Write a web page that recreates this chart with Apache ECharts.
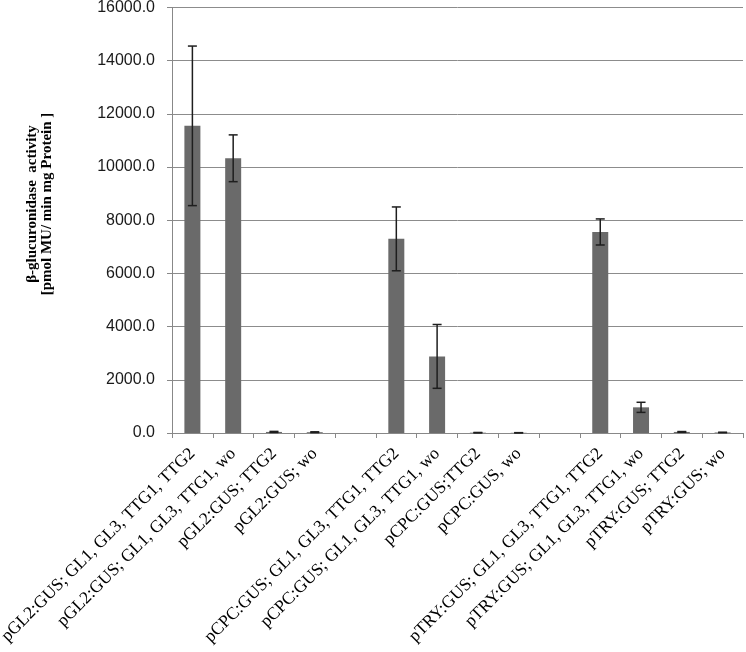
<!DOCTYPE html>
<html>
<head>
<meta charset="utf-8">
<script src="https://cdn.jsdelivr.net/npm/echarts@6/dist/echarts.min.js"></script>
<style>
html,body{margin:0;padding:0;background:#fff;}
#chart{width:746px;height:652px;}
</style>
</head>
<body>
<div id="chart"></div>
<script>
const categories = [
  'pGL2:GUS; GL1, GL3, TTG1, TTG2',
  'pGL2:GUS; GL1, GL3, TTG1, wo',
  'pGL2:GUS; TTG2',
  'pGL2:GUS; wo',
  '',
  'pCPC:GUS; GL1, GL3, TTG1, TTG2',
  'pCPC:GUS; GL1, GL3, TTG1, wo',
  'pCPC:GUS;TTG2',
  'pCPC:GUS, wo',
  ' ',
  'pTRY:GUS; GL1, GL3, TTG1, TTG2',
  'pTRY:GUS; GL1, GL3, TTG1, wo',
  'pTRY:GUS; TTG2',
  'pTRY:GUS; wo'
];
const values = [11550, 10330, 40, 30, null, 7300, 2880, 12, 8, null, 7560, 965, 40, 20];
const errors = [3000, 880, 20, 15, null, 1200, 1200, 8, 5, null, 490, 190, 15, 10];
const yTicks = { min: 0, max: 16000, interval: 2000 };
const yTitleLines = ['β-glucuronidase  activity', '[pmol MU/ min mg Protein ]'];

const chart = echarts.init(document.getElementById('chart'), null, { renderer: 'canvas' });

const errData = values.map((v, i) => v == null ? [i, null, null] : [i, v - errors[i], v + errors[i]]);

const option = {
  animation: false,
  backgroundColor: '#ffffff',
  grid: { left: 172, right: 3, top: 7.5, bottom: 219, containLabel: false, outerBoundsMode: 'none' },
  xAxis: {
    type: 'category',
    data: categories,
    axisLine: { show: true, lineStyle: { color: '#888888', width: 1 } },
    axisTick: { show: true, length: 5, lineStyle: { color: '#888888' }, alignWithLabel: false },
    axisLabel: {
      interval: 0,
      rotate: 45,
      margin: 18,
      fontFamily: '"Liberation Serif", "Times New Roman", serif',
      fontSize: 17.5,
      color: '#000000'
    },
    splitLine: { show: false }
  },
  yAxis: {
    type: 'value',
    min: yTicks.min,
    max: yTicks.max,
    interval: yTicks.interval,
    axisLine: { show: true, lineStyle: { color: '#888888', width: 1 } },
    axisTick: { show: true, length: 5, lineStyle: { color: '#888888' } },
    axisLabel: {
      margin: 17,
      formatter: v => v.toFixed(1),
      fontFamily: '"Liberation Sans", Arial, sans-serif',
      fontSize: 16,
      color: '#1a1a1a'
    },
    splitLine: { show: true, lineStyle: { color: '#8c8c8c', width: 1 } }
  },
  graphic: [{
    type: 'text',
    x: 40,
    y: 204,
    rotation: Math.PI / 2,
    style: {
      text: yTitleLines.join('\n'),
      font: 'bold 15px "Liberation Serif", "Times New Roman", serif',
      fill: '#000000',
      align: 'center',
      verticalAlign: 'middle',
      lineHeight: 15
    }
  }],
  series: [
    {
      type: 'bar',
      data: values.map(v => v == null ? '-' : v),
      barWidth: 16,
      itemStyle: { color: '#6a6a6a' }
    },
    {
      type: 'custom',
      data: errData,
      z: 5,
      renderItem: function (params, api) {
        const lo = api.value(1), hi = api.value(2);
        if (lo == null || isNaN(lo)) return null;
        const pLo = api.coord([api.value(0), Math.max(lo, 0)]);
        const pHi = api.coord([api.value(0), hi]);
        const hw = 4.5;
        const style = { stroke: '#1e1e1e', lineWidth: 1.5 };
        return {
          type: 'group',
          children: [
            { type: 'line', shape: { x1: pLo[0], y1: pLo[1], x2: pHi[0], y2: pHi[1] }, style: style },
            { type: 'line', shape: { x1: pLo[0] - hw, y1: pLo[1], x2: pLo[0] + hw, y2: pLo[1] }, style: style },
            { type: 'line', shape: { x1: pHi[0] - hw, y1: pHi[1], x2: pHi[0] + hw, y2: pHi[1] }, style: style }
          ]
        };
      }
    }
  ]
};
chart.setOption(option);
</script>
</body>
</html>
